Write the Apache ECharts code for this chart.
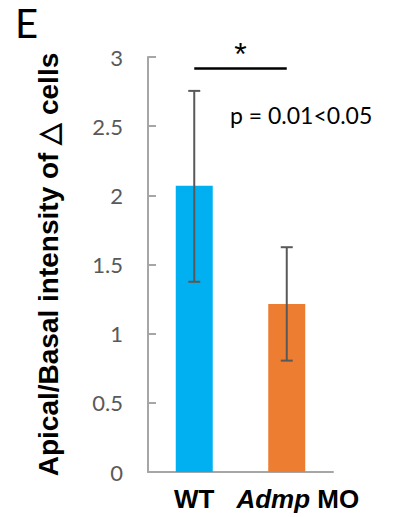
<!DOCTYPE html>
<html>
<head>
<meta charset="utf-8">
<script src="https://cdn.jsdelivr.net/npm/echarts@6/dist/echarts.min.js"></script>
<style>
  html, body { margin: 0; padding: 0; background: #fff; }
  #main { width: 395px; height: 517px; }
</style>
</head>
<body>
<div id="main"></div>
<script>
// values
const categories = ['WT', 'Admp MO'];
const means = [2.07, 1.215];
const errLow = [1.375, 0.805];
const errHigh = [2.755, 1.625];
const barColors = ['#00B0F0', '#ED7D31'];
const sigLevel = 2.92;

const chart = echarts.init(document.getElementById('main'), null, { renderer: 'svg' });

const errData = categories.map((c, i) => [i, errLow[i], errHigh[i]]);

chart.setOption({
  animation: false,
  grid: { left: 148, right: 62, top: 57, bottom: 45 },
  xAxis: {
    type: 'category',
    data: categories,
    axisLine: { lineStyle: { color: '#A6A6A6', width: 2 } },
    axisTick: { show: false },
    axisLabel: {
      interval: 0,
      hideOverlap: false,
      margin: 14,
      fontFamily: 'Liberation Sans',
      fontWeight: 'bold',
      fontSize: 26,
      color: '#000',
      formatter: v => v === 'Admp MO' ? '{i|Admp} {n|MO}' : v,
      rich: {
        i: { fontStyle: 'italic', fontWeight: 'bold', fontSize: 26, fontFamily: 'Liberation Sans', color: '#000', padding: [0, 0, 0, 22] },
        n: { fontWeight: 'bold', fontSize: 26, fontFamily: 'Liberation Sans', color: '#000' }
      }
    }
  },
  yAxis: {
    type: 'value',
    min: 0, max: 3, interval: 0.5,
    name: 'Apical/Basal intensity of △ cells',
    nameLocation: 'middle',
    nameGap: 86,
    nameTextStyle: { fontFamily: 'Liberation Sans', fontWeight: 'bold', fontSize: 28, color: '#000' },
    axisLine: { show: true, lineStyle: { color: '#A6A6A6', width: 2 } },
    axisTick: { show: true, inside: true, length: 8, lineStyle: { color: '#A6A6A6', width: 2 } },
    splitLine: { show: false },
    axisLabel: { margin: 25, fontFamily: 'Lato', fontSize: 22, color: '#595959' }
  },
  series: [
    {
      type: 'bar',
      barWidth: 37,
      data: means.map((v, i) => ({ value: v, itemStyle: { color: barColors[i] } })),
      markLine: {
        symbol: 'none',
        silent: true,
        lineStyle: { color: '#000', width: 2.5, type: 'solid' },
        label: {
          show: true, position: 'middle', formatter: '*',
          fontFamily: 'Liberation Sans', fontSize: 32, color: '#000', distance: -2
        },
        data: [[{ coord: [0, sigLevel] }, { coord: [1, sigLevel] }]]
      }
    },
    {
      type: 'custom',
      data: errData,
      z: 10,
      renderItem: function (params, api) {
        const x = api.value(0);
        const lo = api.coord([x, api.value(1)]);
        const hi = api.coord([x, api.value(2)]);
        const hw = 6;
        const style = { stroke: '#595959', lineWidth: 2 };
        return {
          type: 'group',
          children: [
            { type: 'line', shape: { x1: hi[0], y1: hi[1], x2: lo[0], y2: lo[1] }, style },
            { type: 'line', shape: { x1: hi[0] - hw, y1: hi[1], x2: hi[0] + hw, y2: hi[1] }, style },
            { type: 'line', shape: { x1: lo[0] - hw, y1: lo[1], x2: lo[0] + hw, y2: lo[1] }, style }
          ]
        };
      }
    }
  ],
  graphic: [
    { type: 'text', left: 15, top: 3, style: { text: 'E', fontFamily: 'Lato', fontSize: 40, fill: '#000' } },
    { type: 'text', left: 230, top: 103, style: { text: 'p = 0.01<0.05', fontFamily: 'Lato', fontSize: 23, fill: '#000' } }
  ]
});
</script>
</body>
</html>
